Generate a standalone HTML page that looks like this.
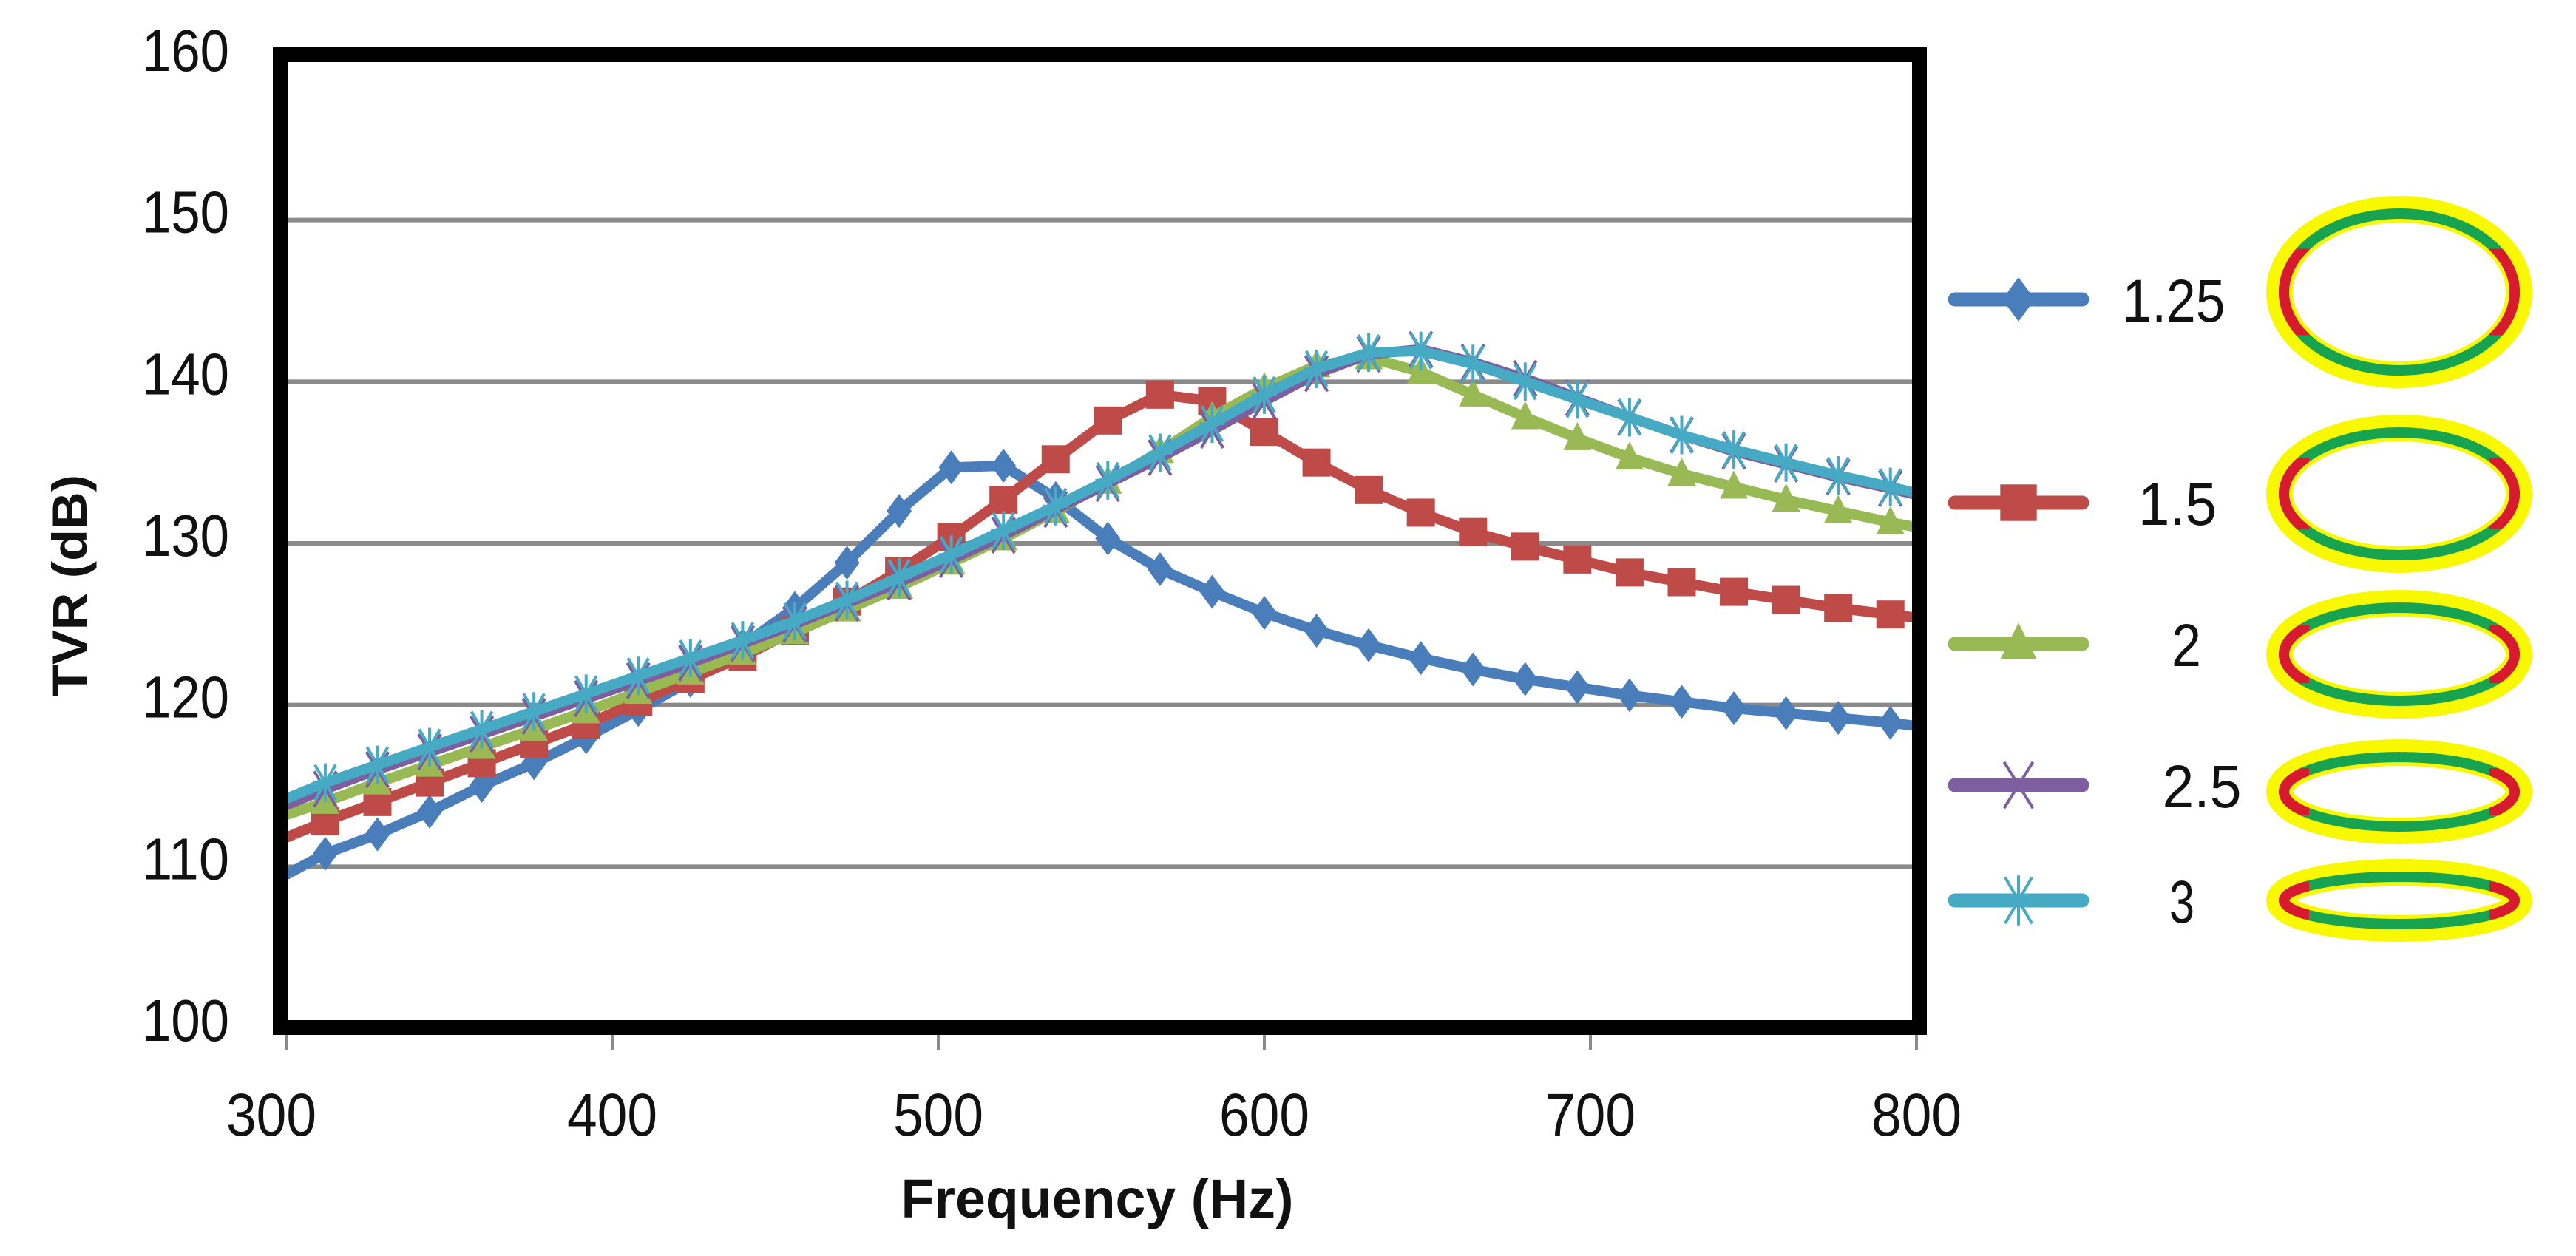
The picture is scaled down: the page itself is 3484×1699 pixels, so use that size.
<!DOCTYPE html>
<html><head><meta charset="utf-8"><style>
html,body{margin:0;padding:0;background:#fff;}
svg{display:block;}
text{font-family:"Liberation Sans",sans-serif;fill:#111;}
</style></head><body>
<svg id="chart" width="3484" height="1699" viewBox="0 0 3484 1699" xmlns="http://www.w3.org/2000/svg">
<rect width="3484" height="1699" fill="#fff"/>
<g id="grid"></g>
<g id="series"></g>
<g id="frame"></g>
<g id="axes"></g>
<g id="legend"></g>
</svg>
<script>
const freqs = [300,312,328,344,360,376,392,408,424,440,456,472,488,504,520,536,552,568,584,600,616,632,648,664,680,696,712,728,744,760,776,792,800];
const s125 = [109.5,110.8,112,113.4,115,116.4,118,119.7,121.5,123.7,126,128.8,132,134.7,134.8,132.8,130.3,128.4,127,125.7,124.6,123.7,122.9,122.2,121.6,121.1,120.6,120.2,119.8,119.5,119.2,118.9,118.7];
const s15 = [111.8,112.8,114,115.2,116.4,117.6,118.8,120.2,121.6,123,124.6,126.4,128.3,130.4,132.7,135.2,137.6,139.2,138.8,136.9,135,133.3,131.9,130.7,129.8,129,128.2,127.6,127,126.5,126,125.6,125.4];
const s2 = [113.2,114,115.2,116.3,117.4,118.5,119.6,120.8,122,123.2,124.5,125.9,127.3,128.8,130.3,132,133.8,135.7,137.8,139.6,141,141.5,140.6,139.2,137.8,136.5,135.3,134.3,133.5,132.7,132,131.3,131];
const s25 = [113.8,114.8,116,117.1,118.2,119.3,120.4,121.5,122.6,123.8,125,126.3,127.6,129,130.5,132.1,133.7,135.3,137,138.8,140.5,141.7,142,141.2,140.2,139,137.8,136.7,135.7,134.9,134.1,133.4,133];
const s3 = [114.2,115.2,116.3,117.4,118.5,119.6,120.7,121.8,122.9,124,125.2,126.5,127.9,129.3,130.8,132.3,133.9,135.6,137.4,139.2,140.8,141.8,141.9,141.1,140,138.9,137.8,136.7,135.8,135,134.2,133.5,133.1];
const seriesNames = ["1.25","1.5","2","2.5","3"];
const yTicks = [100,110,120,130,140,150,160];
const xTicks = [300,400,500,600,700,800];

const NS="http://www.w3.org/2000/svg";
const X0=387,X1=2592,Y0=1391,Y1=79;
function xs(f){return X0+(f-300)/(800-300)*(X1-X0);}
function ys(v){return Y0-(v-100)/(160-100)*(Y0-Y1);}
function mk(tag,attrs,parent){const e=document.createElementNS(NS,tag);for(const k in attrs)e.setAttribute(k,attrs[k]);parent.appendChild(e);return e;}

const grid=document.getElementById('grid');
yTicks.forEach(v=>{ if(v===100||v===160)return;
  const l=mk('line',{x1:X0,x2:X1,y1:ys(v),y2:ys(v),stroke:'#8a8a8a','stroke-width':6},grid);
  
  
});

const colors=['#4a7ebb','#be4b48','#98b954','#7d5fa0','#46aac5'];
const data=[s125,s15,s2,s25,s3];
const markerType=['diamond','square','triangle','x','star'];
function marker(type,x,y,c,parent,s){
  s=s||1;
  let e;
  if(type==='diamond') e=mk('path',{d:`M${x} ${y-23*s}L${x+17*s} ${y}L${x} ${y+23*s}L${x-17*s} ${y}Z`,fill:c},parent);
  else if(type==='square') e=mk('rect',{x:x-19*s,y:y-19*s,width:38*s,height:38*s,fill:c},parent);
  else if(type==='triangle') e=mk('path',{d:`M${x} ${y-22*s}L${x+19*s} ${y+16*s}L${x-19*s} ${y+16*s}Z`,fill:c},parent);
  else if(type==='x') e=mk('path',{d:`M${x-15*s} ${y-24*s}L${x+15*s} ${y+24*s}M${x+15*s} ${y-24*s}L${x-15*s} ${y+24*s}`,stroke:c,'stroke-width':4,fill:'none'},parent);
  else e=mk('path',{d:`M${x-14*s} ${y-24*s}L${x+14*s} ${y+24*s}M${x+14*s} ${y-24*s}L${x-14*s} ${y+24*s}M${x} ${y-26*s}L${x} ${y+26*s}M${x-17*s} ${y}L${x+17*s} ${y}`,stroke:c,'stroke-width':4,fill:'none'},parent);
  return e;
}
const sg=document.getElementById('series');
data.forEach((arr,si)=>{
  const g=mk('g',{},sg);
  
  
  const pts=arr.map((v,i)=>xs(freqs[i]).toFixed(1)+','+ys(v).toFixed(1)).join(' ');
  const pl=mk('polyline',{points:pts,fill:'none',stroke:colors[si],'stroke-width':14,'stroke-linejoin':'round'},g);
  
  
  arr.forEach((v,i)=>{
    if(i===0||i===arr.length-1)return;
    const m=marker(markerType[si],xs(freqs[i]),ys(v),colors[si],g);
    
    
  });
});

const frame=document.getElementById('frame');
const fr=mk('rect',{x:379,y:74,width:2217,height:1316,fill:'none',stroke:'#000','stroke-width':20},frame);



const axes=document.getElementById('axes');
yTicks.forEach(v=>{
  const t=mk('text',{x:310,y:ys(v)+17,'text-anchor':'end','font-size':80,textLength:118,lengthAdjust:'spacingAndGlyphs'},axes);
  t.textContent=v;
  
  
});
xTicks.forEach(f=>{
  const tk=mk('line',{x1:xs(f),x2:xs(f),y1:1400,y2:1420,stroke:'#8a8a8a','stroke-width':4},axes);
  
  
  const t=mk('text',{x:xs(f)-(f===300?20:0),y:1536,'text-anchor':'middle','font-size':82,textLength:122,lengthAdjust:'spacingAndGlyphs'},axes);
  t.textContent=f;
  
  
});
const xt=mk('text',{x:1484,y:1647,'text-anchor':'middle','font-size':74,'font-weight':'bold',textLength:531,lengthAdjust:'spacingAndGlyphs'},axes);
xt.textContent='Frequency (Hz)';


const yt=mk('text',{x:0,y:0,'text-anchor':'middle','font-size':66,'font-weight':'bold',textLength:300,lengthAdjust:'spacingAndGlyphs',transform:'translate(117,792) rotate(-90)'},axes);
yt.textContent='TVR (dB)';



const legend=document.getElementById('legend');
const legY=[405,680,871,1062,1218];
const labW=[139,106,40,107,34];
const labX=[2940,2945,2957,2978,2951];
const ell=[[395,130],[668,107],[885,87],[1071,71],[1218,56]];
seriesNames.forEach((n,i)=>{
  const g=mk('g',{},legend);
  
  
  mk('line',{x1:2644,x2:2816,y1:legY[i],y2:legY[i],stroke:colors[i],'stroke-width':19,'stroke-linecap':'round'},g);
  marker(markerType[i],2730,legY[i],colors[i],g,1.3);
  const t=mk('text',{x:labX[i],y:legY[i]+30,'text-anchor':'middle','font-size':82,textLength:labW[i],lengthAdjust:'spacingAndGlyphs'},g);
  t.textContent=n;
  
  
  const cx=3245,cy=ell[i][0],rx=180,ry=ell[i][1];
  const eg=mk('g',{},g);
  
  
  mk('ellipse',{cx:cx,cy:cy,rx:rx-18,ry:ry-18,fill:'none',stroke:'#f8f800','stroke-width':36},eg);
  mk('ellipse',{cx:cx,cy:cy,rx:rx-24,ry:ry-24,fill:'none',stroke:'#17a34f','stroke-width':14},eg);
  const cid='clip'+i;
  const cp=mk('clipPath',{id:cid},eg);
  mk('rect',{x:cx-rx-5,y:cy-ry*0.45,width:rx*0.35,height:ry*0.9},cp);
  mk('rect',{x:cx+rx*0.65+5,y:cy-ry*0.45,width:rx*0.35,height:ry*0.9},cp);
  mk('ellipse',{cx:cx,cy:cy,rx:rx-24,ry:ry-24,fill:'none',stroke:'#d81a2e','stroke-width':14,'clip-path':`url(#${cid})`},eg);
});
</script>
</body></html>
